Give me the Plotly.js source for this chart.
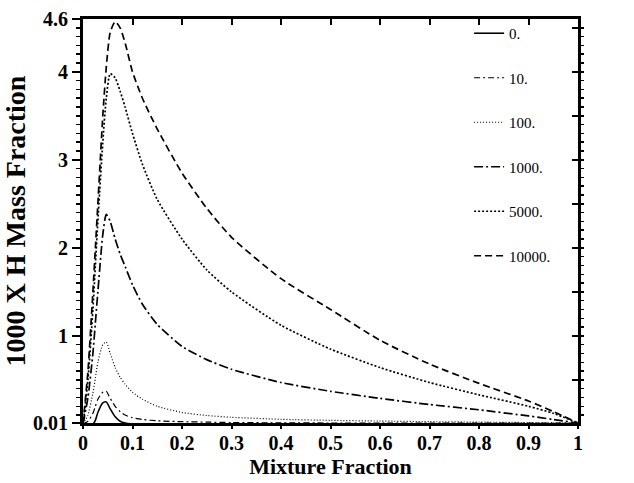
<!DOCTYPE html>
<html>
<head>
<meta charset="utf-8">
<script src="https://cdn.plot.ly/plotly-3.0.1.min.js"></script>
<style>
  html, body { margin: 0; padding: 0; background: #fff; }
  #chart { width: 634px; height: 483px; }
</style>
</head>
<body>
<div id="chart"></div>
<script>
// Mixture fraction grid shared by all profiles
const mixtureFraction = [0, 0.01, 0.02, 0.025, 0.03, 0.04, 0.047, 0.055, 0.065, 0.075, 0.085, 0.1, 0.12, 0.15, 0.2, 0.25, 0.3, 0.4, 0.5, 0.6, 0.7, 0.8, 0.9, 0.95, 1.0];

// 1000 x H mass fraction for each strain/parameter value
const h0     = [0, 0, 0, 0.04, 0.13, 0.24, 0.25, 0.17, 0.08, 0.03, 0.01, 0, 0, 0, 0, 0, 0, 0, 0, 0, 0, 0, 0, 0, 0];
const h10    = [0, 0.03, 0.12, 0.2, 0.28, 0.36, 0.37, 0.29, 0.2, 0.14, 0.1, 0.07, 0.05, 0.035, 0.025, 0.02, 0.015, 0.012, 0.01, 0.01, 0.01, 0.01, 0.01, 0.01, 0.01];
const h100   = [0, 0.1, 0.35, 0.52, 0.7, 0.9, 0.93, 0.8, 0.64, 0.53, 0.45, 0.36, 0.28, 0.2, 0.13, 0.095, 0.075, 0.052, 0.04, 0.032, 0.025, 0.02, 0.015, 0.012, 0.01];
const h1000  = [0, 0.3, 0.8, 1.15, 1.5, 2.15, 2.38, 2.3, 2.1, 1.93, 1.79, 1.58, 1.36, 1.13, 0.88, 0.73, 0.62, 0.47, 0.37, 0.29, 0.22, 0.16, 0.09, 0.05, 0.01];
const h5000  = [0, 0.5, 1.3, 1.8, 2.3, 3.2, 3.7, 3.98, 3.93, 3.78, 3.6, 3.3, 2.95, 2.55, 2.1, 1.75, 1.5, 1.12, 0.85, 0.64, 0.47, 0.33, 0.2, 0.12, 0.01];
const h10000 = [0, 0.6, 1.5, 2.0, 2.5, 3.5, 4.05, 4.45, 4.57, 4.5, 4.33, 4.0, 3.7, 3.35, 2.85, 2.45, 2.12, 1.65, 1.3, 0.95, 0.68, 0.46, 0.26, 0.14, 0.01];

const seriesNames = ['0.', '10.', '100.', '1000.', '5000.', '10000.'];
const seriesData  = [h0, h10, h100, h1000, h5000, h10000];
const dashes      = ['solid', '6px,3px,2px,3px', '1px,2px', '9px,3px,2px,3px', '2px,2px', '7px,4px'];
const widths      = [1.6, 1.2, 1.2, 1.7, 1.7, 1.7];

// Axis tick labels
const yTickVals = [0.01, 1, 2, 3, 4, 4.6];
const yTickText = ['0.01', '1', '2', '3', '4', '4.6'];
const xTickVals = [0, 0.1, 0.2, 0.3, 0.4, 0.5, 0.6, 0.7, 0.8, 0.9, 1];
const xTickText = ['0', '0.1', '0.2', '0.3', '0.4', '0.5', '0.6', '0.7', '0.8', '0.9', '1'];

const serif = 'Liberation Serif, Times New Roman, serif';

const traces = seriesData.map((ys, i) => ({
  x: mixtureFraction,
  y: ys,
  type: 'scatter',
  mode: 'lines',
  name: seriesNames[i],
  legendgroup: 'g' + i,
  line: { color: '#000', width: widths[i], dash: dashes[i], shape: 'spline', smoothing: 0.6 }
}));

// invisible companion traces so the extra frame axes are laid out
traces.push({
  x: mixtureFraction, y: h10000, xaxis: 'x2', yaxis: 'y2',
  type: 'scatter', mode: 'lines', showlegend: false, hoverinfo: 'skip',
  line: { width: 0, color: 'rgba(0,0,0,0)' }
});
traces.push({
  x: mixtureFraction, y: h10000, xaxis: 'x3', yaxis: 'y',
  type: 'scatter', mode: 'lines', showlegend: false, hoverinfo: 'skip',
  line: { width: 0, color: 'rgba(0,0,0,0)' }
});

const layout = {
  width: 634, height: 483,
  margin: { l: 83, r: 56, t: 19, b: 60 },
  paper_bgcolor: '#fff', plot_bgcolor: '#fff',
  showlegend: true,
  legend: {
    x: 0.78, y: 1.005, xanchor: 'left', yanchor: 'top',
    bgcolor: 'rgba(0,0,0,0)', borderwidth: 0,
    tracegroupgap: 22,
    itemwidth: 30,
    maxheight: 420,
    font: { family: serif, size: 15, color: '#000' }
  },
  // bottom axis: labels only, sitting right under the frame
  xaxis: {
    range: [0, 1], tickvals: xTickVals, ticktext: xTickText,
    ticks: '', showline: true, linewidth: 3, linecolor: '#000',
    showgrid: false, zeroline: false,
    tickfont: { family: serif, size: 20, color: '#000', weight: 'bold' },
    title: { text: '<b>Mixture Fraction</b>', standoff: 0,
             font: { family: serif, size: 22, color: '#000' } }
  },
  // bottom axis tick marks
  xaxis3: {
    overlaying: 'x', side: 'bottom', anchor: 'y', range: [0, 1],
    tickvals: xTickVals, showticklabels: false,
    ticks: 'outside', ticklen: 5, tickwidth: 2, tickcolor: '#000',
    showline: false, showgrid: false, zeroline: false
  },
  yaxis: {
    range: [0.01, 4.6], tickvals: yTickVals, ticktext: yTickText,
    ticks: 'outside', ticklen: 8, tickwidth: 2, tickcolor: '#000',
    minor: { dtick: 0.1, tick0: 0, ticks: 'outside', ticklen: 4, tickwidth: 1.5, tickcolor: '#000' },
    showline: true, linewidth: 3, linecolor: '#000',
    showgrid: false, zeroline: false,
    tickfont: { family: serif, size: 20, color: '#000', weight: 'bold' },
    title: { text: '<b>1000 X H Mass Fraction</b>', standoff: 0,
             font: { family: serif, size: 28, color: '#000' } }
  },
  xaxis2: {
    overlaying: 'x', side: 'top', anchor: 'y2', range: [0, 1],
    tickvals: xTickVals, showticklabels: false,
    ticks: 'inside', ticklen: 6, tickwidth: 2, tickcolor: '#000',
    showline: true, linewidth: 3, linecolor: '#000',
    showgrid: false, zeroline: false
  },
  yaxis2: {
    overlaying: 'y', side: 'right', anchor: 'x2', range: [0.01, 4.6],
    tickvals: [0.5, 1, 1.5, 2, 2.5, 3, 3.5, 4, 4.5], showticklabels: false,
    ticks: 'inside', ticklen: 6, tickwidth: 2, tickcolor: '#000',
    minor: { dtick: 0.1, tick0: 0, ticks: 'outside', ticklen: 3, tickwidth: 1.5, tickcolor: '#000' },
    showline: true, linewidth: 3, linecolor: '#000',
    showgrid: false, zeroline: false
  }
};

Plotly.newPlot('chart', traces, layout, { staticPlot: true, displayModeBar: false });
</script>
</body>
</html>
